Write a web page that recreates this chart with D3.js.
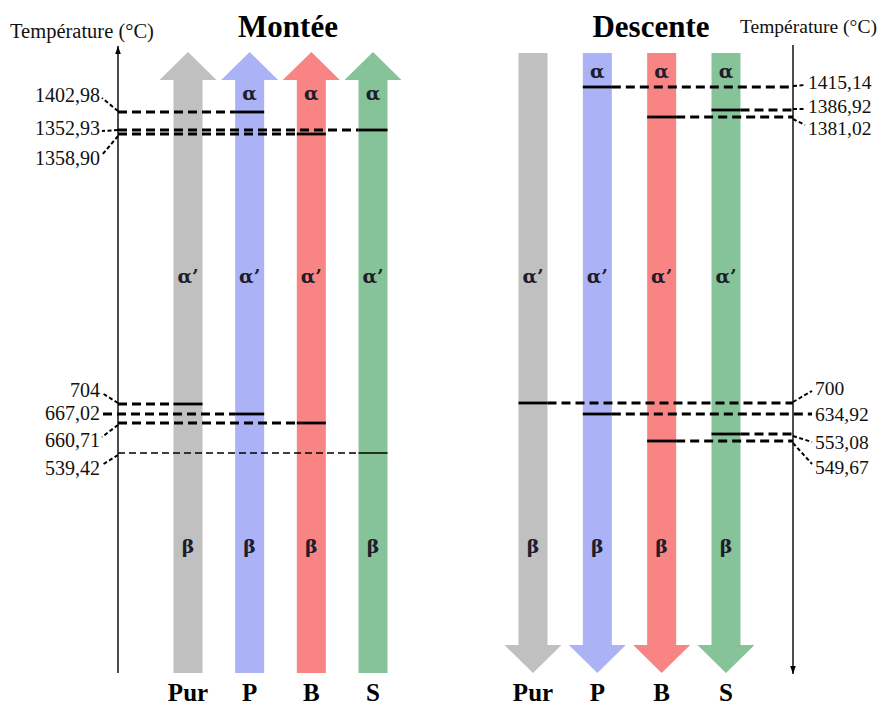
<!DOCTYPE html>
<html><head><meta charset="utf-8">
<script src="https://cdn.jsdelivr.net/npm/d3@7"></script>
<style>body{margin:0;background:#fff}svg{display:block}text{font-family:"Liberation Serif","Times New Roman",serif}</style>
</head><body>
<svg id="c" width="887" height="708"></svg>
<script>
// ---------- data ----------
const materials = ["Pur", "P", "B", "S"];
const heatTemps = [1402.98, 1352.93, 1358.90, 704, 667.02, 660.71, 539.42];
const heatMaterials = ["P", "S", "B", "Pur", "P", "B", "S"];
const heatLabels = ["1402,98", "1352,93", "1358,90", "704", "667,02", "660,71", "539,42"];
const coolTemps = [1415.14, 1386.92, 1381.02, 700, 634.92, 553.08, 549.67];
const coolMaterials = ["P", "S", "B", "Pur", "P", "S", "B"];
const coolLabels = ["1415,14", "1386,92", "1381,02", "700", "634,92", "553,08", "549,67"];
const alphaMaterials = ["P", "B", "S"];
const phaseNames = ["α", "α’", "β"];
const titles = ["Montée", "Descente"];
const axisTitle = "Température (°C)";

// ---------- layout / style ----------
const svg = d3.select("#c");
const color = d3.scaleOrdinal(materials, ["#c0c0c0", "#abb3f6", "#f98484", "#87c399"]);
const barHalf = 14.5, headHalf = 28.5;

const panels = [
  { temps: heatTemps, mats: heatMaterials, labels: heatLabels, up: true,
    x: d3.scalePoint(materials, [188, 373]), axisX: 118,
    yAnchors: [112, 130, 134, 404, 414, 423, 453],
    labelDy: [-17, -2, 24, -14, -1, 17, 15],
    phaseY: [93, 276, 546], title: titles[0], titleX: 288 },
  { temps: coolTemps, mats: coolMaterials, labels: coolLabels, up: false,
    x: d3.scalePoint(materials, [533, 726]), axisX: 793,
    yAnchors: [87, 110, 117, 403, 414, 434, 441],
    labelDy: [-5, -4, 11, -15, 0, 8, 26],
    phaseY: [71, 276, 546], title: titles[1], titleX: 651 }
];

const defs = svg.append("defs");
defs.append("marker").attr("id", "ah").attr("viewBox", "0 0 10 10").attr("refX", 10).attr("refY", 5)
  .attr("markerWidth", 6).attr("markerHeight", 6).attr("orient", "auto-start-reverse")
  .append("path").attr("d", "M0,1.5 L10,5 L0,8.5 Z").attr("fill", "#000");

panels.forEach((p) => {
  const order = d3.range(p.temps.length).sort((a, b) => d3.descending(p.temps[a], p.temps[b]));
  const y = d3.scaleLinear()
    .domain(order.map(i => p.temps[i]))
    .range(order.map(i => p.yAnchors[i]));
  const g = svg.append("g");

  // arrows
  const top = p.up ? 52 : 53, bottom = 673, headBase = p.up ? 80 : 645;
  g.selectAll("path.arrow").data(materials).join("path")
    .attr("class", "arrow")
    .attr("fill", d => color(d))
    .attr("d", d => {
      const cx = p.x(d);
      if (p.up) {
        return `M${cx},${top} L${cx + headHalf},${headBase} L${cx + barHalf},${headBase} L${cx + barHalf},${bottom} L${cx - barHalf},${bottom} L${cx - barHalf},${headBase} L${cx - headHalf},${headBase} Z`;
      }
      return `M${cx - barHalf},${top} L${cx + barHalf},${top} L${cx + barHalf},${headBase} L${cx + headHalf},${headBase} L${cx},${bottom} L${cx - headHalf},${headBase} L${cx - barHalf},${headBase} Z`;
    });

  // phase labels
  const phase = (m, k) => g.append("text").attr("x", p.x(m)).attr("y", p.phaseY[k] + 7)
    .attr("text-anchor", "middle").style("font-family", '"DejaVu Serif","Liberation Serif",serif')
    .attr("font-size", 19).attr("font-weight", "bold").attr("fill", "#1d1d2b").text(phaseNames[k]);
  alphaMaterials.forEach(m => phase(m, 0));
  materials.forEach(m => { phase(m, 1); phase(m, 2); });

  // axis
  const ax = p.axisX;
  g.append("line").attr("x1", ax).attr("x2", ax)
    .attr("y1", p.up ? 673 : 45).attr("y2", p.up ? 46 : 674)
    .attr("stroke", "#000").attr("stroke-width", 1.4).attr("marker-end", "url(#ah)");

  // transition lines
  p.temps.forEach((t, i) => {
    const m = p.mats[i];
    const yy = y(t);
    const thin = p.up && i === 6;
    const sw = thin ? 1.5 : 2.8;
    const dash = thin ? "7,4" : "9,5";
    const bx0 = p.x(m) - barHalf, bx1 = p.x(m) + barHalf;
    const hasHoriz = (p.up && p.labelDy[i] === -1) || (!p.up && p.labelDy[i] === 0);
    let dx0, dx1;
    if (p.up) { dx0 = hasHoriz ? 103 : ax; dx1 = bx0; } else { dx0 = bx1; dx1 = hasHoriz ? 812 : ax; }
    g.append("line").attr("x1", dx0).attr("x2", dx1).attr("y1", yy).attr("y2", yy)
      .attr("stroke", "#000").attr("stroke-width", sw).attr("stroke-dasharray", dash);
    g.append("line").attr("x1", bx0).attr("x2", bx1).attr("y1", yy).attr("y2", yy)
      .attr("stroke", "#000").attr("stroke-width", sw);

    // labels + leaders
    const ly = yy + p.labelDy[i];
    const lx = p.up ? 100 : (i < 3 ? 808 : 815);
    g.append("text").attr("x", lx).attr("y", ly + 6.5)
      .attr("text-anchor", p.up ? "end" : "start").attr("font-size", p.up ? 20 : 19.5).attr("fill", "#111")
      .text(p.labels[i]);
    if (!hasHoriz) {
      const ex = p.up ? 102 : lx - 3;
      const ey = p.labelDy[i] < 0 ? ly + 3 : ly - (Math.abs(p.labelDy[i]) > 10 ? 3 : 0);
      g.append("line").attr("x1", ax).attr("y1", yy + (p.labelDy[i] > 3 ? 2 : p.labelDy[i] < -3 ? -1 : 0))
        .attr("x2", ex).attr("y2", ey)
        .attr("stroke", "#000").attr("stroke-width", 2).attr("stroke-dasharray", "4,2.5");
    }
  });

  // titles
  g.append("text").attr("x", p.titleX).attr("y", 37).attr("text-anchor", "middle")
    .attr("font-size", 31).attr("font-weight", "bold").attr("fill", "#000").text(p.title);
  g.append("text").attr("x", p.up ? 10 : 740).attr("y", p.up ? 38 : 33)
    .attr("font-size", p.up ? 20.5 : 19.5).attr("fill", "#111").text(axisTitle);

  // category labels
  g.selectAll("text.cat").data(materials).join("text").attr("class", "cat")
    .attr("x", d => p.x(d)).attr("y", 701).attr("text-anchor", "middle")
    .attr("font-size", 25).attr("font-weight", "bold").attr("fill", "#000").text(d => d);
});
</script>
</body></html>
